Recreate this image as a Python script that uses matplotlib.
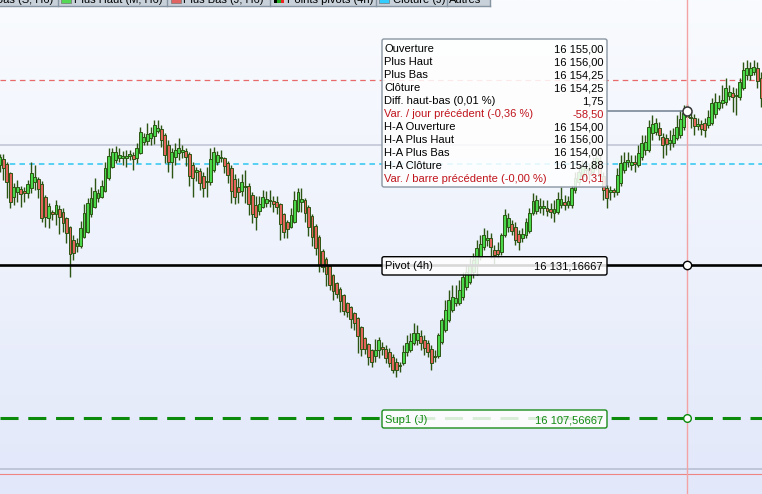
import matplotlib
matplotlib.use('Agg')
import matplotlib.pyplot as plt
import numpy as np
from matplotlib.colors import LinearSegmentedColormap
from matplotlib.patches import FancyBboxPatch, Rectangle

plt.rcParams['font.family'] = ['Liberation Sans', 'DejaVu Sans']
plt.rcParams['lines.scale_dashes'] = False

# Heikin-Ashi bars, points above 16 100
BASE = 16100.0
ha_open = [
    46.6, 47.5, 46.7, 45.4, 41.6, 42.4, 42.9, 42.6, 42.3, 43.0,
    44.0, 44.4, 43.7, 41.6, 38.4, 39.3, 39.0, 39.8, 39.3, 38.4,
    37.0, 35.0, 34.1, 34.1, 35.5, 36.3, 39.0, 40.1, 41.5, 41.6,
    42.6, 44.6, 46.3, 47.4, 47.7, 47.7, 47.7, 48.0, 48.1, 47.7,
    48.4, 50.1, 50.3, 50.8, 51.1, 51.8, 52.1, 51.2, 49.7, 47.1,
    47.8, 48.4, 48.6, 48.8, 48.3, 46.6, 45.5, 45.7, 44.9, 44.0,
    44.0, 45.8, 47.1, 47.7, 47.7, 46.9, 46.1, 44.4, 43.2, 42.6,
    43.2, 43.3, 41.9, 40.4, 39.5, 40.1, 40.7, 41.0, 41.0, 40.9,
    40.6, 39.0, 37.8, 37.0, 37.8, 39.5, 40.9, 41.2, 40.1, 38.7,
    37.2, 35.5, 33.3, 32.1, 31.0, 29.6, 28.4, 27.5, 26.5, 25.3,
    24.7, 23.8, 23.0, 21.6, 19.9, 19.0, 18.1, 17.1, 18.1, 18.5,
    18.2, 17.7, 17.0, 16.2, 15.6, 16.0, 17.7, 18.1, 19.1, 19.6,
    20.2, 19.6, 19.1, 18.2, 17.0, 17.1, 19.3, 21.1, 22.7, 24.2,
    25.3, 25.3, 26.2, 27.8, 28.5, 30.1, 31.2, 32.4, 33.9, 35.0,
    35.3, 33.5, 33.5, 33.2, 35.8, 37.0, 37.5, 37.0, 35.9, 35.4,
    35.8, 36.4, 39.2, 39.5, 40.0, 40.0, 40.0, 39.8, 39.2, 39.3,
    40.4, 40.9, 40.4, 40.4, 42.7, 44.0, 44.9, 45.8, 46.1, 45.5,
    46.4, 47.4, 44.9, 43.0, 42.4, 42.7, 42.4, 43.8, 45.8, 47.1,
    46.6, 47.1, 46.6, 47.8, 48.9, 48.9, 51.5, 51.7, 52.3, 50.9,
    50.8, 50.0, 50.0, 50.8, 51.2, 52.4, 54.0, 54.0, 53.8, 52.6,
    52.9, 53.1, 52.8, 53.1, 54.5, 55.4, 56.2, 56.3, 57.2, 57.7,
    57.2, 57.1, 58.5, 60.5, 60.5, 60.9, 61.6, 60.0,
]
ha_close = [
    47.8, 46.1, 44.0, 40.9, 43.2, 43.2, 42.1, 42.3, 43.7, 45.4,
    44.7, 42.9, 38.4, 38.6, 40.3, 39.0, 40.4, 38.6, 37.6, 36.1,
    32.9, 33.0, 34.6, 36.9, 39.2, 40.7, 41.5, 42.6, 42.3, 43.4,
    46.1, 48.0, 48.6, 48.6, 48.1, 48.0, 48.0, 48.3, 47.5, 49.2,
    51.7, 50.9, 51.4, 51.5, 52.8, 52.3, 50.4, 48.1, 47.1, 48.6,
    48.9, 49.2, 48.9, 47.8, 44.9, 44.6, 45.8, 43.8, 43.0, 44.1,
    47.5, 48.6, 48.1, 47.8, 46.4, 45.0, 42.6, 41.6, 42.4, 44.0,
    43.3, 40.6, 39.0, 38.6, 40.6, 41.6, 41.3, 41.2, 40.6, 40.1,
    37.5, 36.3, 36.7, 38.9, 41.2, 42.4, 41.3, 39.2, 37.0, 35.5,
    33.8, 31.2, 30.9, 29.8, 28.1, 27.2, 26.7, 25.6, 24.1, 23.9,
    22.8, 22.2, 20.2, 18.2, 18.2, 17.0, 16.2, 18.1, 19.6, 18.2,
    16.8, 16.0, 15.0, 15.0, 15.7, 17.7, 19.1, 19.4, 20.7, 20.7,
    19.1, 18.4, 17.7, 16.0, 17.1, 20.4, 22.7, 24.2, 25.8, 26.2,
    26.1, 27.3, 29.3, 30.1, 31.2, 31.9, 33.8, 34.4, 35.8, 35.3,
    33.9, 32.7, 32.9, 35.8, 38.9, 38.4, 36.4, 35.0, 34.7, 35.9,
    37.8, 39.2, 41.0, 41.2, 40.1, 40.3, 39.5, 39.3, 39.8, 41.3,
    41.3, 40.4, 41.0, 43.0, 44.6, 45.5, 46.4, 46.1, 45.2, 47.1,
    47.7, 44.9, 42.7, 41.5, 42.7, 42.4, 45.0, 46.9, 47.1, 47.2,
    47.1, 46.7, 48.4, 50.0, 50.1, 52.5, 52.9, 53.1, 51.2, 49.7,
    49.8, 50.4, 51.2, 52.5, 53.7, 54.6, 54.88, 53.8, 52.6, 52.9,
    52.1, 52.0, 54.0, 56.2, 56.3, 56.3, 56.6, 58.5, 57.9, 57.1,
    57.4, 59.4, 61.2, 61.6, 61.6, 61.7, 59.5, 56.9,
]
ha_high = [
    48.3, 48.3, 47.1, 45.5, 43.8, 44.3, 43.4, 43.2, 44.3, 47.1,
    46.6, 44.7, 44.1, 41.9, 40.7, 39.6, 41.2, 40.4, 40.0, 38.6,
    37.2, 35.8, 35.3, 37.9, 40.6, 41.5, 43.2, 44.6, 42.9, 44.3,
    47.1, 49.2, 49.2, 49.5, 49.2, 48.7, 48.9, 48.9, 48.6, 50.0,
    52.5, 51.5, 53.1, 52.5, 53.5, 53.5, 52.8, 51.5, 50.4, 49.2,
    50.0, 50.8, 49.7, 49.2, 48.6, 47.1, 46.3, 46.1, 45.5, 46.3,
    49.2, 49.4, 48.7, 48.9, 47.8, 47.2, 46.6, 45.2, 44.6, 45.2,
    45.8, 43.8, 42.4, 41.8, 41.8, 42.7, 42.6, 42.7, 41.8, 41.8,
    40.7, 39.2, 38.1, 40.0, 42.6, 43.0, 43.0, 41.5, 40.4, 39.0,
    37.5, 35.8, 33.6, 32.4, 31.2, 29.8, 28.5, 27.8, 26.7, 25.5,
    24.8, 23.9, 23.1, 21.8, 20.0, 19.1, 18.2, 19.7, 20.1, 19.3,
    18.8, 18.4, 17.4, 16.8, 16.2, 18.8, 20.4, 20.7, 22.2, 21.9,
    21.1, 20.4, 19.6, 18.8, 18.1, 20.7, 23.0, 25.8, 27.3, 28.1,
    28.1, 28.9, 30.1, 31.2, 32.2, 33.0, 35.0, 35.8, 36.9, 36.6,
    36.1, 34.2, 34.7, 36.1, 39.8, 39.2, 38.1, 37.8, 36.6, 36.9,
    38.4, 40.0, 42.3, 42.0, 41.5, 41.2, 41.2, 40.7, 41.2, 42.4,
    43.2, 42.0, 41.8, 43.5, 45.5, 46.6, 47.4, 47.4, 46.9, 47.8,
    48.6, 48.1, 45.5, 43.5, 43.3, 43.0, 46.1, 48.1, 48.6, 48.6,
    48.1, 48.1, 49.7, 51.2, 51.2, 53.5, 54.3, 53.8, 53.2, 51.5,
    51.4, 52.0, 52.3, 54.3, 55.1, 55.8, 56.0, 54.8, 54.5, 53.8,
    53.5, 53.8, 55.1, 56.9, 57.7, 57.4, 58.9, 60.0, 58.9, 58.6,
    58.5, 60.0, 62.5, 62.8, 62.5, 62.8, 62.5, 60.9,
]
ha_low = [
    45.5, 44.3, 41.5, 40.0, 40.4, 40.9, 40.1, 40.9, 41.5, 42.3,
    42.7, 41.5, 37.8, 37.0, 36.9, 38.1, 37.3, 35.9, 36.3, 34.6,
    29.3, 31.9, 33.2, 33.8, 35.3, 36.1, 38.6, 40.0, 40.9, 41.5,
    42.4, 44.3, 46.1, 46.9, 47.1, 46.6, 46.3, 47.4, 45.8, 46.9,
    48.3, 49.7, 49.7, 49.7, 49.8, 51.5, 49.4, 46.9, 45.5, 44.6,
    46.6, 47.4, 47.7, 46.4, 43.3, 41.6, 44.1, 42.7, 41.6, 41.6,
    43.5, 45.5, 46.6, 47.1, 45.4, 43.8, 40.7, 40.6, 40.7, 41.8,
    40.7, 38.9, 37.6, 36.6, 38.9, 40.0, 40.1, 40.1, 39.3, 39.0,
    35.0, 35.3, 35.3, 36.9, 37.6, 39.3, 39.3, 37.8, 35.6, 34.1,
    32.7, 30.1, 30.1, 27.9, 27.3, 25.8, 26.1, 23.9, 23.5, 23.1,
    21.4, 21.1, 17.6, 17.1, 17.4, 15.7, 15.4, 16.2, 16.8, 17.3,
    16.0, 15.4, 14.5, 13.9, 14.7, 15.7, 17.1, 17.7, 18.8, 18.8,
    18.1, 17.3, 17.0, 15.0, 16.2, 16.8, 19.0, 20.8, 22.4, 23.9,
    24.8, 25.0, 25.8, 27.3, 28.2, 29.2, 29.6, 31.9, 33.5, 34.1,
    32.2, 31.4, 32.2, 32.7, 35.5, 36.3, 35.8, 34.2, 33.5, 34.7,
    35.3, 36.1, 38.9, 39.0, 39.2, 38.9, 38.7, 38.4, 37.8, 39.0,
    39.9, 39.6, 39.9, 39.9, 42.3, 43.5, 44.3, 44.6, 44.3, 44.9,
    45.8, 44.3, 41.2, 40.0, 41.2, 41.6, 42.0, 43.3, 45.4, 46.3,
    45.8, 45.5, 46.3, 47.4, 48.1, 48.6, 50.4, 51.2, 50.4, 47.7,
    48.1, 48.9, 49.4, 50.4, 50.8, 52.0, 54.0, 52.3, 51.2, 52.0,
    51.2, 50.9, 52.3, 52.8, 53.8, 55.1, 55.4, 55.8, 56.6, 54.8,
    54.3, 56.6, 58.2, 59.7, 59.7, 60.5, 58.5, 55.5,
]

cross_bar = 196
pivot_4h = 16131.16667
sup1_j = 16107.56667
plus_bas_level = 16159.75
cloture_level = 16146.75
grey_levels = [16149.75, 16099.75]
low_red_level = 16098.9

tip_labels = ['Ouverture', 'Plus Haut', 'Plus Bas', 'Clôture',
              'Diff. haut-bas (0,01 %)', 'Var. / jour précédent (-0,36 %)',
              'H-A Ouverture', 'H-A Plus Haut', 'H-A Plus Bas', 'H-A Clôture',
              'Var. / barre précédente (-0,00 %)']
tip_values = ['16 155,00', '16 156,00', '16 154,25', '16 154,25', '1,75', '-58,50',
              '16 154,00', '16 156,00', '16 154,00', '16 154,88', '-0,31']
tip_red = [False, False, False, False, False, True,
           False, False, False, False, True]

tab_names = ['Plus Bas (S, H6)', 'Plus Haut (M, H6)', 'Plus Bas (J, H6)',
             'Points pivots (4h)', 'Clôture (J)', 'Autres']


def fr(v):
    return f'{v:,.5f}'.replace(',', ' ').replace('.', ',')


o = BASE + np.array(ha_open)
c = BASE + np.array(ha_close)
h = BASE + np.array(ha_high)
l = BASE + np.array(ha_low)
idx = np.arange(len(o))

XL = (0.0485, 217.3)
YL = (16095.85, 16172.04)

fig = plt.figure(figsize=(7.62, 4.94), dpi=100)
ax = fig.add_axes([0, 0, 1, 1])
ax.set_xlim(*XL)
ax.set_ylim(*YL)
ax.axis('off')

bg = LinearSegmentedColormap.from_list('bg', ['#f9fbfe', '#eef2fc', '#e2e8fa'])
ax.imshow(np.linspace(0, 1, 256)[:, None], cmap=bg, aspect='auto',
          extent=[XL[0], XL[1], YL[0], YL[1]], origin='upper', zorder=0)

# levels
ax.axhline(grey_levels[0], color='#c6cad9', lw=1.3, zorder=1)
ax.axhline(grey_levels[1], color='#b9c0d3', lw=1.2, zorder=1)
ax.axhline(low_red_level, color='#ee8484', lw=0.8, zorder=1)
ax.axhline(plus_bas_level, color='#e86a6a', lw=0.9, ls=(0, (4, 3)), zorder=1)
ax.axhline(cloture_level, color='#2cc6f0', lw=1.1, ls=(0, (4, 3)), zorder=1)

# candles
up = c >= o
ax.vlines(idx, l, h, color='#2c5514', lw=1.0, zorder=2)
ax.bar(idx, np.maximum(np.abs(c - o), 0.2), bottom=np.minimum(o, c), width=0.82,
       color=np.where(up, '#4ad84a', '#e2665c'), edgecolor='#2c5514',
       linewidth=0.7, zorder=2.5)

ax.axhline(pivot_4h, color='black', lw=1.9, zorder=3)
ax.axhline(sup1_j, color='#0b8a0b', lw=2.2, ls=(0, (13, 7)), zorder=3)
ax.axvline(cross_bar, color='#f3a3a3', lw=1.0, zorder=4)

# overlay in pixels for the labels
ov = fig.add_axes([0, 0, 1, 1])
ov.set_xlim(0, 762)
ov.set_ylim(494, 0)
ov.axis('off')

fs = 8.0
box_l, box_r = 382, 607
ov.add_patch(FancyBboxPatch((box_l, 39), box_r - box_l, 148,
                            boxstyle='round,pad=0,rounding_size=2',
                            fc=(1, 1, 1, 0.86), ec='#8a96a2', lw=1))
for k, (lab, val, red) in enumerate(zip(tip_labels, tip_values, tip_red)):
    col = '#c0141c' if red else 'black'
    yb = 52.3 + 12.95 * k
    ov.text(384.5, yb, lab, fontsize=fs, color=col, va='baseline')
    ov.text(603.5, yb, val, fontsize=fs, color=col, va='baseline', ha='right')

ov.add_patch(FancyBboxPatch((box_l, 256.7), box_r - box_l, 18.3,
                            boxstyle='round,pad=0,rounding_size=2',
                            fc=(1, 1, 1, 0.85), ec='black', lw=1))
ov.text(385, 269, 'Pivot (4h)', fontsize=fs, va='baseline')
ov.text(603, 269, fr(pivot_4h), fontsize=fs, va='baseline', ha='right')

ov.add_patch(FancyBboxPatch((box_l, 410), box_r - box_l, 18,
                            boxstyle='round,pad=0,rounding_size=2',
                            fc=(1, 1, 1, 0.85), ec='#1b8c1b', lw=1))
ov.text(385, 423, 'Sup1 (J)', fontsize=fs, va='baseline', color='#138a13')
ov.text(603, 423, fr(sup1_j), fontsize=fs, va='baseline', ha='right', color='#138a13')

# connector from tooltip to the hovered bar
x_edge = ax.transData.inverted().transform(ov.transData.transform((box_r, 0)))[0]
hc = c[cross_bar]
ax.plot([x_edge, cross_bar], [hc, hc], color='#6f7f8f', lw=1.1, zorder=5)
ax.plot(cross_bar, hc, 'o', ms=6.5, mfc='white', mec='#333333', mew=1.1, zorder=6)
ax.plot(cross_bar, pivot_4h, 'o', ms=6, mfc='white', mec='black', mew=1.0, zorder=6)
ax.plot(cross_bar, sup1_j, 'o', ms=5.5, mfc='white', mec='#0b8a0b', mew=1.0, zorder=6)

# legend tabs, cut by the top edge as in the screenshot
ov.add_patch(Rectangle((0, 0), 490, 6.5, fc='#c8d1da', ec='none'))
ov.plot([0, 490], [6.5, 6.5], color='#8693a0', lw=1)
for xs in [57.7, 167.3, 270, 375.7, 446.7, 490]:
    ov.plot([xs, xs], [0, 6.5], color='#8693a0', lw=1)
ov.add_patch(Rectangle((61, -7), 10, 9.7, fc='#55d855', ec='#777777', lw=0.5))
ov.add_patch(Rectangle((170.7, -7), 10, 9.7, fc='#e06464', ec='#777777', lw=0.5))
ov.add_patch(Rectangle((274, -7), 3.4, 9.7, fc='black', ec='none'))
ov.add_patch(Rectangle((277.4, -7), 3.3, 9.7, fc='#22aa22', ec='none'))
ov.add_patch(Rectangle((280.7, -7), 3.3, 9.7, fc='#ee2222', ec='none'))
ov.add_patch(Rectangle((379, -7), 10, 9.7, fc='#33ccff', ec='#777777', lw=0.5))
ov.text(53, 3.3, tab_names[0], fontsize=fs, va='baseline', ha='right')
for name, xt in zip(tab_names[1:], [74, 183, 287, 393, 449]):
    ov.text(xt, 3.3, name, fontsize=fs, va='baseline')

fig.savefig('out.png', dpi=100)
plt.close(fig)
